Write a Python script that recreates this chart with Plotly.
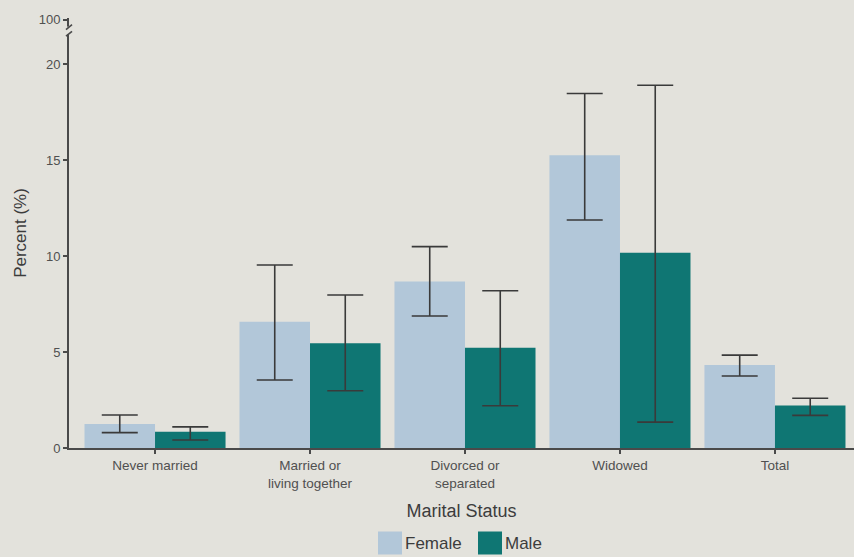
import plotly.graph_objects as go

categories = ["Never married", "Married or<br>living together", "Divorced or<br>separated", "Widowed", "Total"]
female_values = [1.25, 6.58, 8.68, 15.25, 4.32]
female_upper = [1.72, 9.53, 10.49, 18.47, 4.84]
female_lower = [0.80, 3.54, 6.88, 11.88, 3.75]
male_values = [0.85, 5.46, 5.22, 10.17, 2.22]
male_upper = [1.10, 7.97, 8.19, 18.90, 2.59]
male_lower = [0.42, 2.98, 2.20, 1.35, 1.70]
y_tick_vals = [0, 5, 10, 15, 20, 22.3]
y_tick_text = ["0", "5", "10", "15", "20", "100"]

BG = "#e3e2dc"
FEMALE = "#b2c7d9"
MALE = "#0f7673"
ERR = "#3a3a3a"
TXT = "#3c3c3c"
FONT = "Liberation Sans, Arial, sans-serif"

def err(vals, up, lo):
    return dict(type="data", symmetric=False,
                array=[u - v for u, v in zip(up, vals)],
                arrayminus=[v - l for v, l in zip(vals, lo)],
                color=ERR, thickness=1.6, width=18)

fig = go.Figure()
fig.add_trace(go.Bar(name="Female", x=categories, y=female_values, marker_color=FEMALE,
                     marker_line_width=0, error_y=err(female_values, female_upper, female_lower)))
fig.add_trace(go.Bar(name="Male", x=categories, y=male_values, marker_color=MALE,
                     marker_line_width=0, error_y=err(male_values, male_upper, male_lower)))

fig.update_layout(
    width=854, height=557,
    margin=dict(l=69, r=0, t=18, b=109),
    paper_bgcolor=BG, plot_bgcolor=BG,
    barmode="group", bargap=0.09, bargroupgap=0,
    showlegend=False,
    font=dict(family=FONT, color=TXT),
    xaxis=dict(range=[-0.555, 4.51], showline=True, linecolor="#4a4a4a", linewidth=2,
               ticks="outside", ticklen=4, tickcolor="#4a4a4a", tickwidth=1.5,
               tickfont=dict(size=13.5, color="#505050"), showgrid=False, zeroline=False,
               title=dict(text="Marital Status", font=dict(size=18, color=TXT), standoff=15)),
    yaxis=dict(range=[0, 22.4], tickvals=y_tick_vals, ticktext=y_tick_text,
               showline=True, linecolor="#4a4a4a", linewidth=2,
               ticks="outside", ticklen=4, tickcolor="#4a4a4a", tickwidth=1.5,
               tickfont=dict(size=13, color="#505050"), showgrid=False, zeroline=False,
               title=dict(text="Percent (%)", font=dict(size=17, color=TXT), standoff=8)),
)

# axis break mark near the top of the y axis
fig.add_shape(type="rect", xref="paper", yref="y", xsizemode="pixel", xanchor=0,
              x0=-4, x1=4, y0=21.55, y1=21.95, fillcolor=BG, line_width=0, layer="above")
fig.add_shape(type="path", xref="paper", yref="y", xsizemode="pixel", xanchor=0,
              path="M -3,21.45 L 3,21.7", line=dict(color="#4a4a4a", width=1.6))
fig.add_shape(type="path", xref="paper", yref="y", xsizemode="pixel", xanchor=0,
              path="M -3,21.8 L 3,22.05", line=dict(color="#4a4a4a", width=1.6))

# manual legend
for name, color, xc in [("Female", FEMALE, 390), ("Male", MALE, 490)]:
    fig.add_shape(type="rect", xref="paper", yref="paper",
                  x0=(xc - 12 - 69) / 785, x1=(xc + 12 - 69) / 785,
                  y0=-(543 - 11.5 - 448) / 430, y1=-(543 + 11.5 - 448) / 430,
                  fillcolor=color, line_width=0)
    fig.add_annotation(text=name, xref="paper", yref="paper",
                       x=(xc + 13 - 69) / 785, y=-(543 - 448) / 430,
                       xanchor="left", yanchor="middle", showarrow=False,
                       font=dict(size=17, color=TXT))

fig.write_html("out.html", config={"displayModeBar": False},
               post_script="document.body.style.margin='0';document.body.style.overflow='hidden';")
